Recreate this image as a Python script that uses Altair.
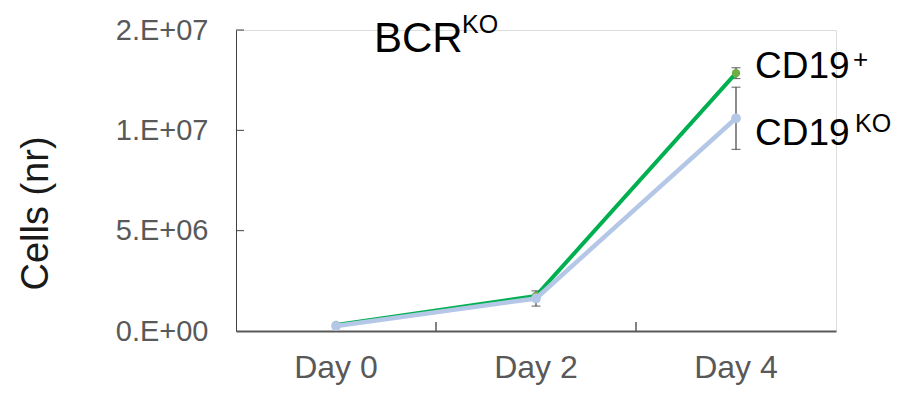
import altair as alt
import pandas as pd

# ---- data ----
days = ["Day 0", "Day 2", "Day 4"]
cd19pos_mean = [0.30e6, 1.75e6, 12.85e6]
cd19pos_err = [0.05e6, 0.10e6, 0.27e6]
cd19ko_mean = [0.25e6, 1.62e6, 10.6e6]
cd19ko_err = [0.05e6, 0.38e6, 1.55e6]
y_tick_values = [0, 5e6, 1e7, 1.5e7]
y_tick_labels = ["0.E+00", "5.E+06", "1.E+07", "2.E+07"]
x_tick_days = ["Day 2", "Day 4"]

FONT = "Liberation Sans"
GREEN_LINE = "#00B050"
GREEN_PT = "#70AD47"
BLUE = "#B4C7E7"
AXIS_GRAY = "#595959"

rows = []
for d, m, e in zip(days, cd19pos_mean, cd19pos_err):
    rows.append({"day": d, "series": "CD19+", "mean": m, "lo": m - e, "hi": m + e})
for d, m, e in zip(days, cd19ko_mean, cd19ko_err):
    rows.append({"day": d, "series": "CD19KO", "mean": m, "lo": m - e, "hi": m + e})
df = pd.DataFrame(rows)
pos = df[df.series == "CD19+"]
ko = df[df.series == "CD19KO"]
errs = df[df["hi"] - df["lo"] > 0.2e6]

label_expr = ""
for v, l in zip(y_tick_values, y_tick_labels):
    label_expr += f"datum.value == {v:.0f} ? '{l}' : "
label_expr += "''"

xscale = alt.Scale(type="band", domain=days, paddingInner=0, paddingOuter=0)
yscale = alt.Scale(domain=[0, 1.5e7], nice=False, zero=True)

x_enc = alt.X("day:N", scale=xscale, sort=days, title=None,
              axis=alt.Axis(labelAngle=0, labelAlign="center", bandPosition=0.5,
                            labelFontSize=32, labelColor=AXIS_GRAY,
                            labelFont=FONT, ticks=False, labelPadding=36,
                            domainColor=AXIS_GRAY, domainWidth=2, grid=False))
y_axis = alt.Axis(values=y_tick_values, labelExpr=label_expr, labelFontSize=29,
                  labelColor=AXIS_GRAY, labelFont=FONT, ticks=False, labelPadding=28,
                  domainColor="#404040", domainWidth=1, grid=False,
                  title="Cells (nr)", titleFontSize=38, titleFont=FONT,
                  titleFontWeight="normal", titleColor="#1a1a1a",
                  titleAngle=270, titleX=-200, titleY=183,
                  titleAlign="center", titleBaseline="middle")
y_enc = alt.Y("mean:Q", scale=yscale, axis=y_axis)

base_x = alt.X("day:N", scale=xscale, sort=days)

# error bars
err_rule = alt.Chart(errs).mark_rule(color="#404040", strokeWidth=1.2).encode(
    x=base_x, y=alt.Y("lo:Q", scale=yscale), y2="hi:Q")
err_lo = alt.Chart(errs).mark_tick(color="#404040", thickness=1.2, size=9, orient="horizontal").encode(
    x=base_x, y=alt.Y("lo:Q", scale=yscale))
err_hi = alt.Chart(errs).mark_tick(color="#404040", thickness=1.2, size=9, orient="horizontal").encode(
    x=base_x, y=alt.Y("hi:Q", scale=yscale))

# inward axis ticks
yt = alt.Chart(pd.DataFrame({"v": y_tick_values[1:]})).mark_rule(color="#404040", strokeWidth=1).encode(
    y=alt.Y("v:Q", scale=yscale), x=alt.value(0), x2=alt.value(8))
xt = alt.Chart(pd.DataFrame({"day": x_tick_days})).mark_rule(
    color=AXIS_GRAY, strokeWidth=1.5, xOffset=-100).encode(
    x=base_x, y=alt.value(301), y2=alt.value(292))

green_line = alt.Chart(pos).mark_line(color=GREEN_LINE, strokeWidth=4).encode(x=x_enc, y=y_enc)
green_pts = alt.Chart(pos).mark_point(filled=True, color=GREEN_PT, size=70, opacity=1).encode(x=base_x, y=alt.Y("mean:Q", scale=yscale))
blue_line = alt.Chart(ko).mark_line(color=BLUE, strokeWidth=4.5).encode(x=base_x, y=alt.Y("mean:Q", scale=yscale))
blue_pts = alt.Chart(ko).mark_point(filled=True, color=BLUE, size=95, opacity=1).encode(x=base_x, y=alt.Y("mean:Q", scale=yscale))


def txt(s, x, y, size):
    return alt.Chart(pd.DataFrame({"t": [s]})).mark_text(
        font=FONT, fontSize=size, color="#000000", align="left", baseline="alphabetic"
    ).encode(text="t:N", x=alt.value(x), y=alt.value(y))


texts = [
    txt("BCR", 138, 22, 42),
    txt("KO", 226, 3, 25),
    txt("CD19", 519, 48, 37),
    txt("+", 617, 38, 26),
    txt("CD19", 519, 115, 37),
    txt("KO", 619, 102, 25),
]

chart = alt.layer(err_rule, err_lo, err_hi, yt, xt, green_line, green_pts, blue_line, blue_pts, *texts).properties(
    width=600, height=301,
    autosize=alt.AutoSizeParams(type="none"),
    padding={"left": 228, "top": 22, "right": 57, "bottom": 64},
).configure_view(strokeWidth=0, stroke="transparent").configure(font=FONT, background="white")

chart.save("out.html", embed_options={"renderer": "svg", "actions": False})
